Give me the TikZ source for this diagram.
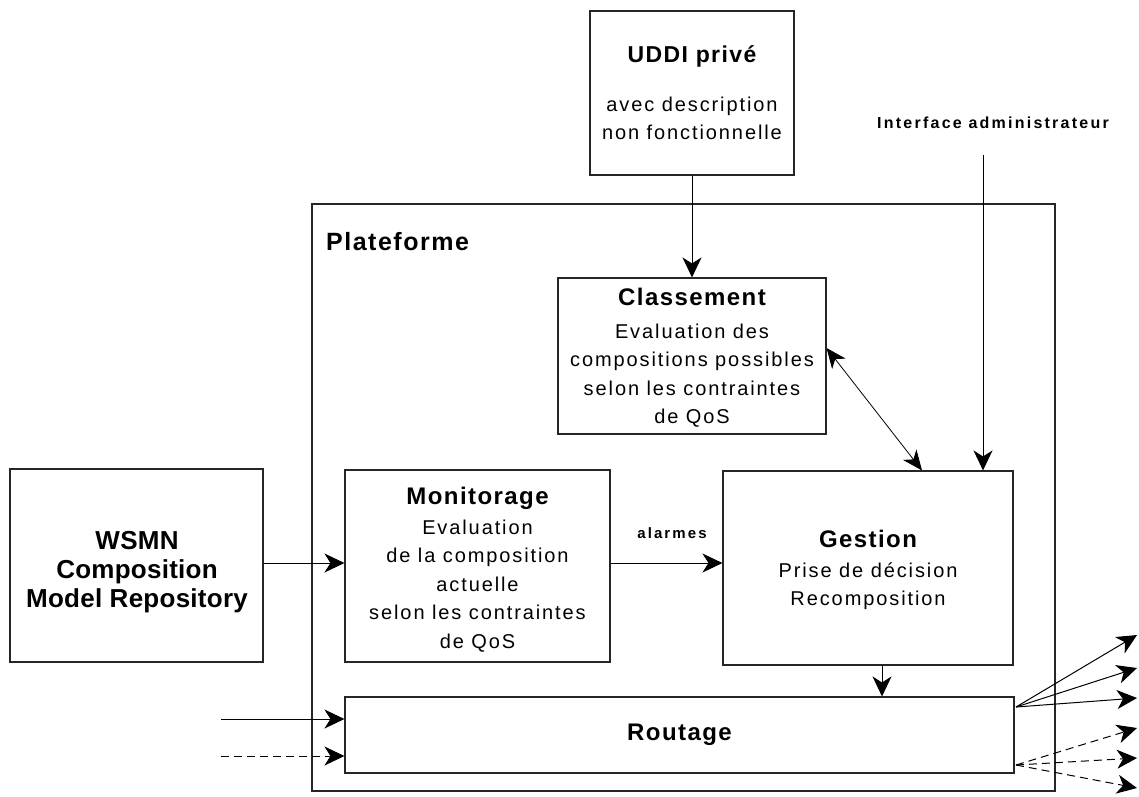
\documentclass[tikz,border=0pt]{standalone}
\usepackage{fontspec}
\setmainfont{Liberation Sans}
\newfontfamily\bodyf[LetterSpace=9.5]{Liberation Sans}
\newfontfamily\titlef[LetterSpace=6]{Liberation Sans}
\newfontfamily\smallf[LetterSpace=14]{Liberation Sans}
\newfontfamily\plainf[LetterSpace=1]{Liberation Sans}
\usetikzlibrary{arrows.meta,calc}
\begin{document}
\begin{tikzpicture}[x=1pt,y=-1pt,
  box/.style={draw=black!85, line width=1.1pt, rectangle, inner sep=0pt, align=center},
  arr/.style={-{Stealth[length=20pt,width=19pt,inset=6pt]}, line width=1pt},
  dbl/.style={{Stealth[length=20pt,width=17pt,inset=6pt]}-{Stealth[length=20pt,width=17pt,inset=6pt]}, line width=0.8pt},
  dsh/.style={arr, dash pattern=on 8pt off 5pt},
  body/.style={font=\bodyf\fontsize{20}{28.5}\selectfont},
  ttl/.style={font=\titlef\bfseries\fontsize{24}{28}\selectfont},
  lbl/.style={font=\smallf\bfseries\fontsize{15}{18}\selectfont, inner sep=0pt},
]
\useasboundingbox (0,0) rectangle (1139,796);

% boxes
\node[box, minimum width=743pt, minimum height=587pt] (plat) at (683.5,497.5) {};
\node[anchor=west, inner sep=0pt, font=\titlef\bfseries\fontsize{25}{28}\selectfont] (platlbl) at (326,242) {Plateforme};

\node[box, minimum width=204pt, minimum height=164pt, body] (uddi) at (692,93)
  {{\titlef\bfseries\fontsize{23}{28}\selectfont UDDI privé}\\[20pt]avec description\\non fonctionnelle};

\node[box, minimum width=268pt, minimum height=156pt] (class) at (692,356) {};
\node[body, align=center, inner sep=0pt] (classtxt) at (692,358)
  {{\titlef\bfseries\fontsize{24}{28}\selectfont Classement}\\[4pt]Evaluation des\\compositions possibles\\selon les contraintes\\de QoS};

\node[box, minimum width=265pt, minimum height=192pt] (mon) at (477.5,566) {};
\node[body, align=center, inner sep=0pt] (montxt) at (477.5,569.5)
  {{\titlef\bfseries\fontsize{24}{28}\selectfont Monitorage}\\[1pt]Evaluation\\de la composition\\actuelle\\selon les contraintes\\de QoS};

\node[box, minimum width=290pt, minimum height=194pt] (gest) at (868,568) {};
\node[body, align=center, inner sep=0pt] (gesttxt) at (868,570)
  {{\titlef\bfseries\fontsize{24}{28}\selectfont Gestion}\\[1pt]Prise de décision\\Recomposition};

\node[box, minimum width=669pt, minimum height=76pt, ttl] (rout) at (679.5,735) {Routage};

\node[box, minimum width=253pt, minimum height=193pt] (wsmn) at (136.5,565.5) {};
\node[font=\plainf\bfseries\fontsize{26}{29}\selectfont, align=center, inner sep=0pt] (wsmntxt) at (137,572)
  {WSMN\\Composition\\Model Repository};

% labels
\node[lbl, font=\smallf\bfseries\fontsize{16}{18}\selectfont] (iface) at (993,123) {Interface administrateur};
\node[lbl] (alarm) at (672,533) {alarmes};

% coordinates
\coordinate (ifs) at (983,155);
\coordinate (in1) at (221,719);
\coordinate (in2) at (221,756);
\coordinate (o1) at (1016,707);
\coordinate (o2) at (1016,765);
\coordinate (t1) at (1137,635);
\coordinate (t2) at (1137,668);
\coordinate (t3) at (1137,698);
\coordinate (t4) at (1137,728);
\coordinate (t5) at (1137,758);
\coordinate (t6) at (1137,788);
\coordinate (gb) at (882,665);

% connectors
\draw[arr] (uddi.south) -- (class.north);
\draw[arr] (ifs) -- (ifs |- gest.north);
\draw[dbl] ([yshift=8pt]class.east) -- ([xshift=54pt]gest.north);
\draw[arr] (wsmn.east |- 0,563) -- (mon.west |- 0,563);
\draw[arr] (mon.east |- 0,563) -- (gest.west |- 0,563);
\draw[arr] (gb) -- (gb |- rout.north);
\draw[arr] (in1) -- (in1 -| rout.west);
\draw[dsh] (in2) -- (in2 -| rout.west);
\draw[arr] (o1) -- (t1);
\draw[arr] (o1) -- (t2);
\draw[arr] (o1) -- (t3);
\draw[dsh] (o2) -- (t4);
\draw[dsh] (o2) -- (t5);
\draw[dsh] (o2) -- (t6);
\end{tikzpicture}
\end{document}
